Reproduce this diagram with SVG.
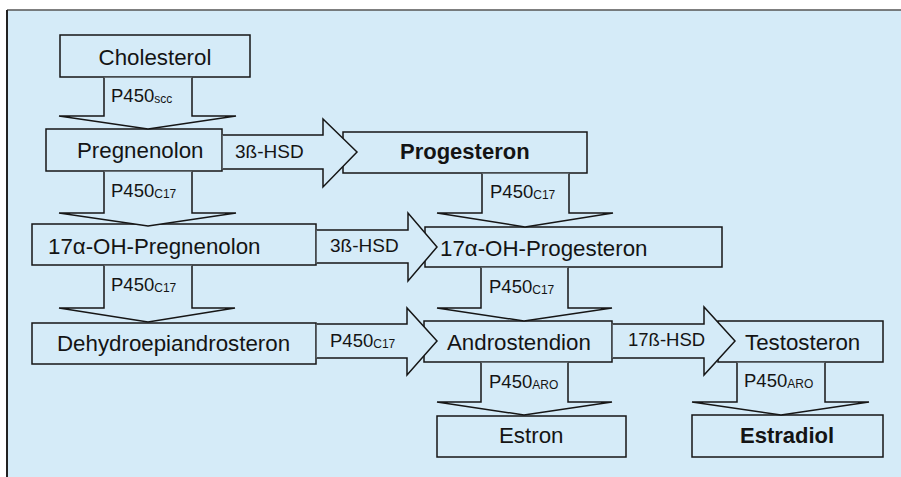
<svg xmlns="http://www.w3.org/2000/svg" width="901" height="477" viewBox="0 0 901 477">
<style>
.bx{fill:#d5ebf8;stroke:#161616;stroke-width:1.5}
.ar{fill:#d5ebf8;stroke:#161616;stroke-width:1.5;stroke-linejoin:miter}
text{font-family:"Liberation Sans",Arial,sans-serif;fill:#141414}
.n{font-size:22.3px}
.b{font-size:22px;font-weight:bold}
.e{font-size:18.5px}
.s{font-size:12px}
</style>
<rect x="0" y="0" width="901" height="477" fill="#ffffff"/>
<rect x="7" y="10" width="894" height="467" fill="#d5ebf8"/>
<line x1="7" y1="10" x2="901" y2="10" stroke="#555" stroke-width="1.6"/>
<line x1="7" y1="10" x2="7" y2="477" stroke="#222" stroke-width="2"/>

<g id="cholesterol"><rect class="bx" x="60" y="35" width="190" height="42"/><text class="n" x="155" y="65" text-anchor="middle">Cholesterol</text></g>
<g id="pregnenolon"><rect class="bx" x="46" y="129" width="176" height="42"/><text class="n" x="77" y="158">Pregnenolon</text></g>
<g id="progesteron"><rect class="bx" x="343" y="132" width="244" height="41"/><text class="b" x="400" y="159">Progesteron</text></g>
<g id="oh-pregnenolon"><rect class="bx" x="32" y="224" width="284" height="41"/><text class="n" x="48" y="254">17α-OH-Pregnenolon</text></g>
<g id="oh-progesteron"><rect class="bx" x="425" y="227" width="297" height="40"/><text class="n" x="440" y="256">17α-OH-Progesteron</text></g>
<g id="dhea"><rect class="bx" x="32" y="323" width="284" height="41"/><text class="n" x="57" y="351">Dehydroepiandrosteron</text></g>
<g id="androstendion"><rect class="bx" x="424" y="321" width="188" height="41"/><text class="n" x="447" y="350">Androstendion</text></g>
<g id="testosteron"><rect class="bx" x="718" y="321" width="165" height="41"/><text class="n" x="745" y="350">Testosteron</text></g>
<g id="estron"><rect class="bx" x="437" y="416" width="189" height="41"/><text class="n" x="499" y="443">Estron</text></g>
<g id="estradiol"><rect class="bx" x="692" y="415" width="191" height="42"/><text class="b" x="740" y="443">Estradiol</text></g>

<g id="connectors">
<polyline class="ar" points="104,77.8 104,116 59,116 148,129 236,116 192,116 192,77.8"/>
<text class="e" x="111" y="102">P450<tspan class="s" dy="1">scc</tspan></text>
<polyline class="ar" points="104,171.8 104,213 59,213 148,226 236,213 192,213 192,171.8"/>
<text class="e" x="111" y="197">P450<tspan class="s" dy="1">C17</tspan></text>
<polyline class="ar" points="104,265.8 104,308 59,308 148,322 235,308 192,308 192,265.8"/>
<text class="e" x="111" y="291">P450<tspan class="s" dy="1">C17</tspan></text>
<polyline class="ar" points="482,173.8 482,213 437,213 525,227 613,213 569,213 569,173.8"/>
<text class="e" x="490" y="198">P450<tspan class="s" dy="1">C17</tspan></text>
<polyline class="ar" points="481,267.8 481,308 437,308 524,321 612,308 568,308 568,267.8"/>
<text class="e" x="489" y="293">P450<tspan class="s" dy="1">C17</tspan></text>
<polyline class="ar" points="481,362.8 481,402 437,402 524,415 612,402 568,402 568,362.8"/>
<text class="e" x="489" y="388">P450<tspan class="s" dy="1">ARO</tspan></text>
<polyline class="ar" points="737,362.8 737,402 692,402 781,415 869,402 825,402 825,362.8"/>
<text class="e" x="744" y="387">P450<tspan class="s" dy="1">ARO</tspan></text>

<polyline class="ar" points="222.8,135 323,135 323,119 357,152 323,187 323,169 222.8,169"/>
<text style="font-size:19px" x="235" y="158">3ß-HSD</text>
<polyline class="ar" points="316.8,230 408,230 408,213 437,247 408,281 408,263 316.8,263"/>
<text style="font-size:19px" x="330" y="252">3ß-HSD</text>
<polyline class="ar" points="316.8,324 407,324 407,308 437,341 407,375 407,358 316.8,358"/>
<text class="e" x="330" y="347">P450<tspan class="s" dy="1">C17</tspan></text>
<polyline class="ar" points="612.8,324 704,324 704,307 735,341 704,375 704,358 612.8,358"/>
<text class="e" x="628" y="346">17ß-HSD</text>
</g>
</svg>
